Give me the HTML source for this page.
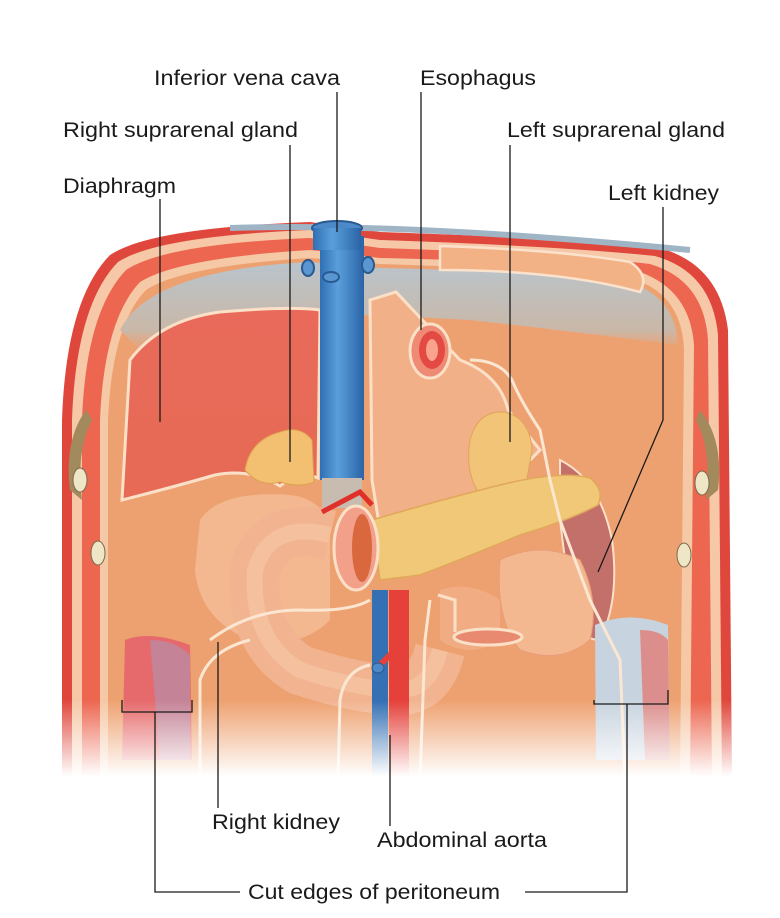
<!DOCTYPE html>
<html><head><meta charset="utf-8"><style>
html,body{margin:0;padding:0;background:#fff;}
svg{display:block;}
text{font-family:"Liberation Sans",Arial,sans-serif;font-size:21px;fill:#1a1a1a;}
</style></head><body>
<svg width="780" height="918" viewBox="0 0 780 918" xmlns="http://www.w3.org/2000/svg">
<defs>
<linearGradient id="fade" x1="0" y1="0" x2="0" y2="1">
<stop offset="0" stop-color="#fff" stop-opacity="0"/>
<stop offset="0.85" stop-color="#fff" stop-opacity="1"/>
<stop offset="1" stop-color="#fff" stop-opacity="1"/>
</linearGradient>
<linearGradient id="blueband" x1="0" y1="0" x2="0" y2="1">
<stop offset="0" stop-color="#b9c4cc"/>
<stop offset="0.7" stop-color="#c9b8a8"/>
<stop offset="1" stop-color="#e9a07a" stop-opacity="0"/>
</linearGradient>
<linearGradient id="ivc" x1="0" y1="0" x2="1" y2="0">
<stop offset="0" stop-color="#2f6fb3"/><stop offset="0.4" stop-color="#5a9fdc"/><stop offset="1" stop-color="#2a64a6"/>
</linearGradient>
<linearGradient id="liver" x1="0" y1="0" x2="0" y2="1">
<stop offset="0" stop-color="#e96a5a"/><stop offset="1" stop-color="#e66a55"/>
</linearGradient>
</defs>

<path d="M62,780 L62,420 Q66,300 110,255 Q150,228 310,222 L380,232 Q560,238 660,248 Q720,265 728,330 L732,780 Z" fill="#e0473c"/>
<path d="M72,780 L72,420 Q76,305 118,262 Q158,236 310,230 L380,240 Q560,246 655,256 Q712,272 718,335 L722,780 Z" fill="#f6c8a8"/>
<path d="M82,780 L82,420 Q86,312 126,270 Q165,244 310,238 L380,248 Q560,254 650,264 Q704,280 708,340 L712,780 Z" fill="#ec6650"/>
<path d="M100,780 L100,420 Q104,320 140,282 Q178,258 310,250 L380,258 Q560,262 640,272 Q690,290 694,345 L690,780 Z" fill="#f5c8a6"/>
<path d="M108,780 L108,420 Q112,325 146,290 Q182,266 310,258 L380,264 Q560,270 636,280 Q682,296 684,350 L680,780 Z" fill="#eea170"/>
<path d="M120,330 Q150,270 310,262 L380,268 Q560,272 634,284 Q676,300 678,345 Q560,330 470,320 Q300,310 250,318 Q180,330 150,360 Z" fill="url(#blueband)"/>
<path d="M230,228 Q400,222 690,250" stroke="#9fb4c4" stroke-width="6" fill="none"/>
<path d="M440,246 Q560,250 630,262 Q650,275 640,292 Q560,270 440,270 Z" fill="#f2b286" stroke="#fbe2cc" stroke-width="2.5"/>
<path d="M86,410 Q64,440 70,490 L82,500 Q76,450 92,420 Z" fill="#a28a5c"/>
<path d="M700,410 Q724,440 718,490 L706,500 Q712,450 696,420 Z" fill="#a28a5c"/>
<ellipse cx="80" cy="480" rx="7" ry="12" fill="#efe6c8" stroke="#7a6a4a"/>
<ellipse cx="98" cy="553" rx="7" ry="12" fill="#efe6c8" stroke="#7a6a4a"/>
<ellipse cx="702" cy="483" rx="7" ry="12" fill="#efe6c8" stroke="#7a6a4a"/>
<ellipse cx="684" cy="555" rx="7" ry="12" fill="#efe6c8" stroke="#7a6a4a"/>

<path d="M122,500 L130,360 Q160,320 220,312 Q290,306 320,310 L318,478 Q300,470 280,486 Q250,468 215,475 Q170,488 122,500 Z" fill="url(#liver)" stroke="#fbe0c8" stroke-width="3"/>
<path d="M245,470 Q250,440 280,432 Q300,425 312,440 L314,482 Q300,488 280,482 Q260,488 245,470 Z" fill="#f2c070" stroke="#e0a050" stroke-width="1"/>
<rect x="320" y="236" width="44" height="244" fill="url(#ivc)"/>
<rect x="322" y="478" width="40" height="30" fill="#c8bcb0"/>
<ellipse cx="337" cy="228" rx="25" ry="7" fill="#4b89c8" stroke="#2a5a90" stroke-width="2"/>
<rect x="313" y="228" width="48" height="22" fill="url(#ivc)"/>
<ellipse cx="308" cy="268" rx="6" ry="8" fill="#5a97d2" stroke="#2a5a90" stroke-width="2"/>
<ellipse cx="368" cy="265" rx="6" ry="8" fill="#5a97d2" stroke="#2a5a90" stroke-width="2"/>
<ellipse cx="331" cy="277" rx="8" ry="5" fill="#5a97d2" stroke="#2a5a90" stroke-width="2"/>

<path d="M370,300 L396,292 L460,360 Q500,375 508,410 L540,450 L470,520 L380,530 L372,480 Z" fill="#f2b088" stroke="#fbe0c8" stroke-width="3"/>
<ellipse cx="430" cy="351" rx="20" ry="27" fill="#ef8a74" stroke="#fbe0c8" stroke-width="3"/>
<ellipse cx="432" cy="350" rx="13" ry="19" fill="#e34a44"/>
<ellipse cx="432" cy="350" rx="6" ry="11" fill="#f9a38c"/>
<path d="M470,440 Q478,410 505,412 Q530,418 532,450 L525,490 Q505,505 478,492 Q465,470 470,440 Z" fill="#f2c478" stroke="#e0a458"/>
<path d="M560,460 Q600,480 612,540 Q620,600 600,640 Q575,640 570,600 L560,520 Z" fill="#c4706a" stroke="#fbe0c8" stroke-width="2"/>
<path d="M200,520 Q220,490 290,495 Q330,500 330,540 L330,620 Q300,650 250,640 Q200,620 195,570 Z" fill="#f3b890"/>
<path d="M500,560 Q540,540 580,560 Q600,600 590,640 Q560,665 520,650 Q495,620 500,560 Z" fill="#f3b890" stroke="#e89c78"/>
<path d="M440,590 Q470,580 500,600 L500,640 Q470,660 440,640 Z" fill="#f1ac84"/>
<path d="M372,520 Q440,500 500,485 Q560,470 590,478 Q605,490 598,505 Q570,520 520,535 Q460,560 420,575 L380,580 Z" fill="#f0c878" stroke="#e0a858" stroke-width="1.5"/>
<path d="M330,535 Q270,520 255,570 Q250,640 300,670 Q360,690 400,690 Q430,690 440,650" fill="none" stroke="#f2b490" stroke-width="50"/>
<path d="M330,535 Q270,520 255,570 Q250,640 300,670 Q360,690 400,690 Q430,690 440,650" fill="none" stroke="#f6c8a6" stroke-width="16" opacity="0.6"/>
<ellipse cx="356" cy="548" rx="22" ry="42" fill="#f2a08a" stroke="#fbe0c8" stroke-width="3"/>
<ellipse cx="362" cy="548" rx="10" ry="34" fill="#d9683e"/>
<path d="M322,512 Q345,500 360,492 L372,505" stroke="#e0302c" stroke-width="5" fill="none"/>
<rect x="372" y="590" width="16" height="190" fill="#3470b3"/>
<rect x="389" y="590" width="20" height="190" fill="#e5403a"/>
<path d="M395,650 L380,665 M400,650 L405,668" stroke="#e5403a" stroke-width="6"/>
<ellipse cx="378" cy="668" rx="6" ry="5" fill="#4b89c8" stroke="#2a5a90"/>
<path d="M438,595 L455,600 L455,632" stroke="#fbe0c8" stroke-width="3" fill="none"/>
<ellipse cx="488" cy="637" rx="34" ry="8" fill="#e88a70" stroke="#fbe0c8" stroke-width="3"/>
<path d="M125,640 Q150,630 190,645 L192,760 L122,760 Z" fill="#e4606a" opacity="0.85"/>
<path d="M150,640 Q175,640 190,655 L190,760 L160,760 Z" fill="#b58fa8" opacity="0.7"/>
<path d="M595,625 Q630,610 668,625 L670,760 L596,760 Z" fill="#c7d3de"/>
<path d="M640,630 Q660,630 668,640 L670,760 L645,760 Z" fill="#e4706a" opacity="0.7"/>
<g fill="none" stroke="#fbe6d2" stroke-width="3">
<path d="M210,640 Q250,610 300,610 Q350,612 370,600"/>
<path d="M200,780 L200,680 Q210,650 250,640"/>
<path d="M470,360 Q500,360 512,380 Q520,400 540,430 L550,480 L560,520 L590,600 L620,660 L625,780"/>
<path d="M338,780 L340,700 Q345,670 370,665"/>
<path d="M420,780 L425,640 L430,600"/>
</g>
<rect x="40" y="700" width="720" height="90" fill="url(#fade)"/>

<g stroke="#1a1a1a" stroke-width="1.3" fill="none">
<line x1="337" y1="92" x2="337" y2="232"/>
<line x1="421" y1="92" x2="421" y2="330"/>
<line x1="290" y1="145" x2="290" y2="462"/>
<line x1="510" y1="145" x2="510" y2="442"/>
<line x1="160" y1="199" x2="160" y2="422"/>
<path d="M663,207 L663,420 L598,572"/>
<line x1="218" y1="808" x2="218" y2="642"/>
<line x1="390" y1="826" x2="390" y2="735"/>
<path d="M122,700 L122,712 L192,712 L192,700"/>
<path d="M155,712 L155,892 L240,892"/>
<path d="M594,700 L594,704 L668,704 L668,690"/>
<path d="M627,704 L627,892 L525,892"/>
</g>
<text x="154" y="85" textLength="186" lengthAdjust="spacingAndGlyphs">Inferior vena cava</text>
<text x="420" y="85" textLength="116" lengthAdjust="spacingAndGlyphs">Esophagus</text>
<text x="63" y="137" textLength="235" lengthAdjust="spacingAndGlyphs">Right suprarenal gland</text>
<text x="507" y="137" textLength="218" lengthAdjust="spacingAndGlyphs">Left suprarenal gland</text>
<text x="63" y="193" textLength="113" lengthAdjust="spacingAndGlyphs">Diaphragm</text>
<text x="608" y="200" textLength="111" lengthAdjust="spacingAndGlyphs">Left kidney</text>
<text x="212" y="829" textLength="128" lengthAdjust="spacingAndGlyphs">Right kidney</text>
<text x="377" y="847" textLength="170" lengthAdjust="spacingAndGlyphs">Abdominal aorta</text>
<text x="248" y="899" textLength="252" lengthAdjust="spacingAndGlyphs">Cut edges of peritoneum</text>
</svg>
</body></html>
